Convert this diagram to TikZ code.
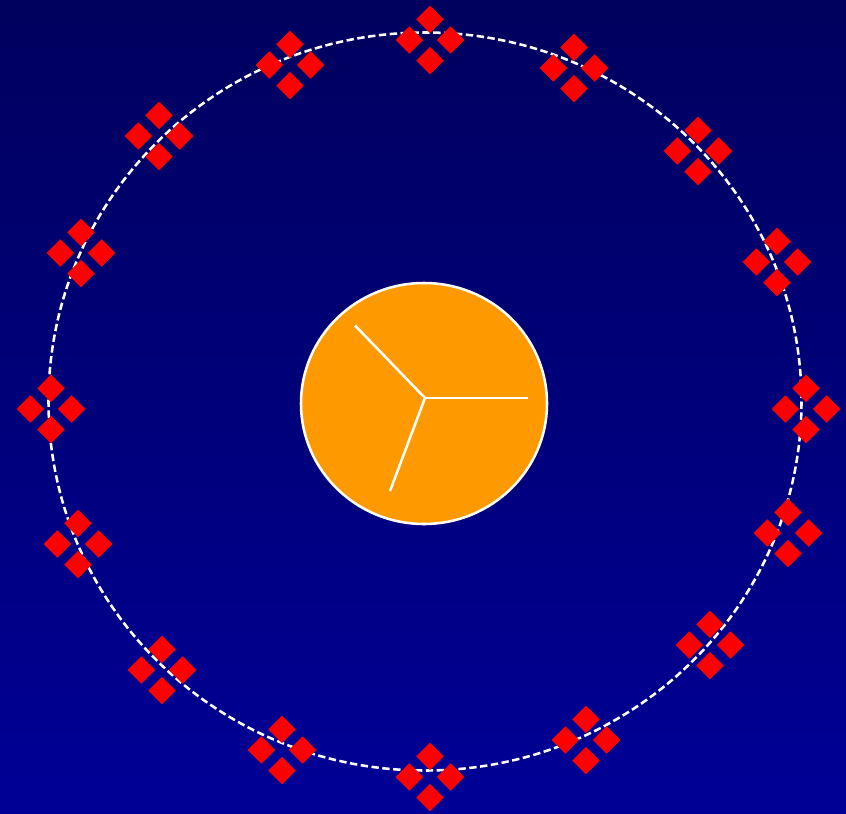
\documentclass[tikz,border=0pt]{standalone}
\usepackage{tikz}
\usetikzlibrary{shapes.geometric}

\definecolor{skytop}{RGB}{0,0,94}
\definecolor{skybottom}{RGB}{0,0,150}
\definecolor{sunorange}{RGB}{255,153,0}

\begin{document}
\begin{tikzpicture}[x=0.5mm, y=-0.5mm,
	gem/.style={diamond, aspect=1, fill=red, inner sep=0pt, minimum width=13.8mm, minimum height=13.8mm},
	ring/.style={white, line width=3.6pt, dash pattern=on 10.5pt off 5pt},
	rim/.style={white, line width=3.6pt}]
	% background
	\shade[top color=skytop, bottom color=skybottom] (0,0) rectangle (846,813);
	\useasboundingbox (0,0) rectangle (846,813);
	% orbit
	\draw[ring] (425,401.5) ellipse [x radius=376.5, y radius=369];
	% central disc and spokes
	\draw[rim, fill=sunorange] (424,403.5) ellipse [x radius=123, y radius=120.5];
	\coordinate (hub) at (425,398);
	\coordinate (s1) at (528,398);
	\coordinate (s2) at (355,325.5);
	\coordinate (s3) at (390,491);
	\foreach \s in {s1,s2,s3}
		\draw[rim] (hub) -- (\s);
	% clusters of four diamonds
	\foreach \x/\y [count=\i] in {430/40, 574/68, 698/151, 777/262, 806/409, 788/533, 710/645, 586/740,
		430/777, 282/750, 162/670, 78/544, 51/409, 81/253, 159/136, 290/65} {
		\node[gem] (c\i-n) at (\x,\y-20.7) {};
		\node[gem] (c\i-w) at (\x-20.7,\y) {};
		\node[gem] (c\i-e) at (\x+20.7,\y) {};
		\node[gem] (c\i-s) at (\x,\y+20.7) {};
	}
\end{tikzpicture}
\end{document}
